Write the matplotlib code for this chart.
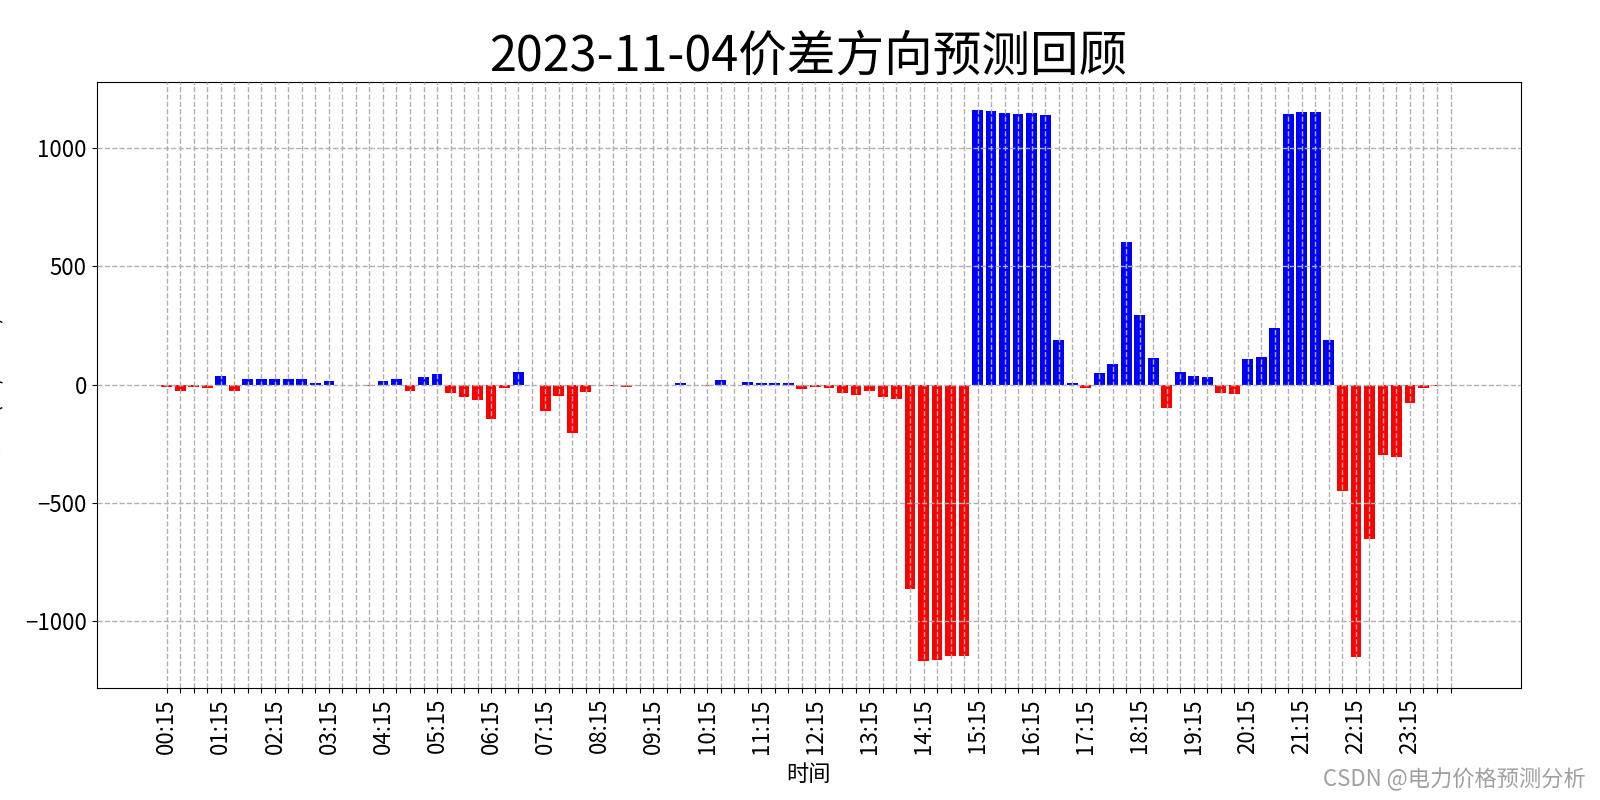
import matplotlib
matplotlib.use("Agg")
import matplotlib.pyplot as plt

plt.rcParams['font.family'] = ['Noto Sans CJK SC', 'DejaVu Sans']
plt.rcParams['axes.unicode_minus'] = True

# 15-minute slots from 00:15 to 24:00
times = ["%02d:%02d" % divmod(15 * (k + 1), 60) for k in range(96)]

# price spread values, one per slot
values = [
    -10, -27, -10, -15, 37, -27, 23, 23, 23, 23, 23, 5,
    14, 0, -2, -5, 14, 23, -27, 31, 44, -37, -52, -65,
    -145, -14, 52, 0, -111, -48, -203, -31, -3, -6, -10, 0,
    0, 0, 6, 0, -6, 18, 0, 10, 6, 6, 6, -20,
    -11, -16, -37, -46, -29, -51, -61, -866, -1168, -1165, -1148, -1148,
    1163, 1155, 1150, 1146, 1150, 1138, 190, 8, -15, 47, 86, 605,
    293, 112, -99, 52, 37, 30, -35, -39, 108, 116, 241, 1143,
    1152, 1152, 190, -449, -1150, -651, -298, -306, -78, -13, -5, 0,
]

title = "2023-11-04价差方向预测回顾"

colors = ['blue' if v > 0 else 'red' for v in values]
pos = list(range(len(values)))

fig = plt.figure(figsize=(16, 8), dpi=100)
ax = fig.add_axes([0.0604, 0.1396, 0.89, 0.7579])

ax.bar(pos, values, width=0.8, color=colors)

# ticks on every slot, label only every hour at :15
ax.set_xticks(pos)
ax.set_xticklabels([t if i % 4 == 0 else "" for i, t in enumerate(times)],
                   rotation=90, fontsize=16)
ax.tick_params(axis='y', labelsize=16)

# grid sits on top of the bars like the original
ax.grid(True, linestyle='--', color='#b0b0b0', linewidth=1)
ax.set_axisbelow(False)

ax.set_title(title, fontsize=35)
ax.set_xlabel("时间", fontsize=16, labelpad=7)
# y label mostly falls off the left edge, same as the original
ax.set_ylabel("价差(元/MWh)", fontsize=16)
ax.yaxis.set_label_coords(-0.0658, 0.5)

fig.text(0.991, 0.026, "CSDN @电力价格预测分析", fontsize=16, color='#a0a0a0',
         ha='right', va='center')

plt.savefig("out.png", dpi=100)
